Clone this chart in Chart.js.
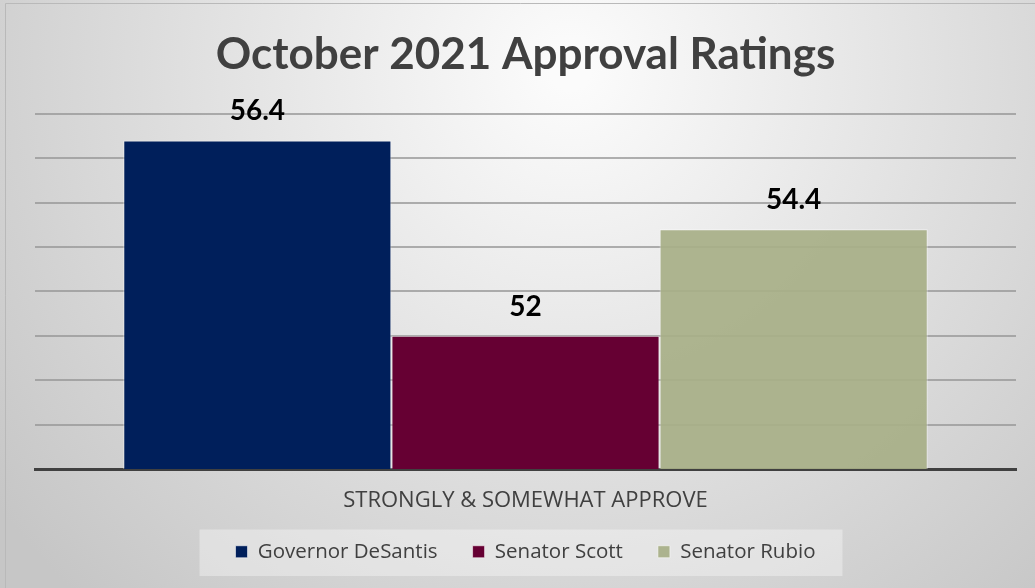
<!DOCTYPE html>
<html>
<head>
<meta charset="utf-8">
<script src="https://cdn.jsdelivr.net/npm/chart.js@4/dist/chart.umd.min.js"></script>
<style>
  html, body { margin: 0; padding: 0; background: #cfcfcf; }
  #wrap { width: 1035px; height: 588px; }
</style>
</head>
<body>
<div id="wrap"><canvas id="approvalChart" width="1035" height="588"></canvas></div>
<script>
const categories = ['STRONGLY & SOMEWHAT APPROVE']
const officials = ['Governor DeSantis', 'Senator Scott', 'Senator Rubio']
const approval = [56.4, 52, 54.4]
const barColors = ['#001f5b', '#660033', 'rgba(168, 175, 136, 0.93)']

const TEXT = '#404040'
const FONT = 'Lato, "Open Sans", sans-serif'
const BODY_FONT = '"Open Sans", Lato, sans-serif'
const LEGEND_LIFT = 17

// soft radial backdrop plus the thin frame
const backdrop = {
  id: 'backdrop',
  afterLayout(chart) {
    // legend sits a little tighter under the axis label than its padding allows
    const lg = chart.legend
    if (lg) {
      lg.top -= LEGEND_LIFT
      lg.bottom -= LEGEND_LIFT
    }
  },
  beforeDraw(chart) {
    const { ctx, width, height } = chart
    ctx.save()
    const g = ctx.createRadialGradient(570, 70, 20, 570, 70, 720)
    g.addColorStop(0, '#fbfbfb')
    g.addColorStop(1, '#c6c6c6')
    ctx.fillStyle = g
    ctx.fillRect(0, 0, width, height)

    ctx.strokeStyle = '#b9b9b9'
    ctx.lineWidth = 1
    ctx.beginPath()
    ctx.moveTo(5.5, height)
    ctx.lineTo(5.5, 3.5)
    ctx.lineTo(width, 3.5)
    ctx.stroke()

    // light panel behind the legend
    const boxes = chart.legend && chart.legend.legendHitBoxes
    if (boxes && boxes.length) {
      const left = Math.min(...boxes.map(b => b.left)) - 36
      const right = Math.max(...boxes.map(b => b.left + b.width)) + 27
      const top = Math.min(...boxes.map(b => b.top)) - 12
      const bottom = Math.max(...boxes.map(b => b.top + b.height)) + 14
      ctx.fillStyle = 'rgba(255, 255, 255, 0.35)'
      ctx.fillRect(left, top, right - left, bottom - top)
    }
    ctx.restore()
  }
}

// value above each bar
const valueLabels = {
  id: 'valueLabels',
  afterDatasetsDraw(chart) {
    const { ctx } = chart
    ctx.save()
    ctx.font = 'bold 28px ' + FONT
    ctx.fillStyle = '#000'
    ctx.textAlign = 'center'
    ctx.textBaseline = 'middle'
    chart.data.datasets.forEach((ds, i) => {
      chart.getDatasetMeta(i).data.forEach((bar, j) => {
        ctx.fillText(String(ds.data[j]), bar.x, bar.y - 29)
      })
    })
    ctx.restore()
  }
}

new Chart(document.getElementById('approvalChart'), {
  type: 'bar',
  data: {
    labels: categories,
    datasets: officials.map((name, i) => ({
      label: name,
      data: [approval[i]],
      backgroundColor: barColors[i],
      borderColor: 'rgba(255, 255, 255, 0.55)',
      borderWidth: 1,
      categoryPercentage: 0.82,
      barPercentage: 1.0
    }))
  },
  options: {
    responsive: false,
    animation: false,
    layout: {
      padding: { left: 35, right: 19, top: 0, bottom: -1 }
    },
    plugins: {
      title: {
        display: true,
        text: 'October 2021 Approval Ratings',
        color: TEXT,
        font: { family: FONT, size: 44, weight: 'bold' },
        padding: { top: 28, bottom: 33 }
      },
      legend: {
        position: 'bottom',
        labels: {
          color: TEXT,
          font: { family: BODY_FONT, size: 20.5 },
          boxWidth: 12,
          boxHeight: 12,
          padding: 35
        }
      },
      tooltip: { enabled: false }
    },
    scales: {
      x: {
        grid: { display: false },
        border: { display: true, color: '#404040', width: 3 },
        ticks: {
          color: TEXT,
          font: { family: BODY_FONT, size: 22 },
          padding: 10
        }
      },
      y: {
        min: 49,
        max: 57,
        ticks: { display: false, stepSize: 1 },
        border: { display: false },
        grid: {
          color: 'rgba(150, 150, 150, 0.75)',
          lineWidth: 2,
          drawTicks: false
        }
      }
    }
  },
  plugins: [backdrop, valueLabels]
})
</script>
</body>
</html>
